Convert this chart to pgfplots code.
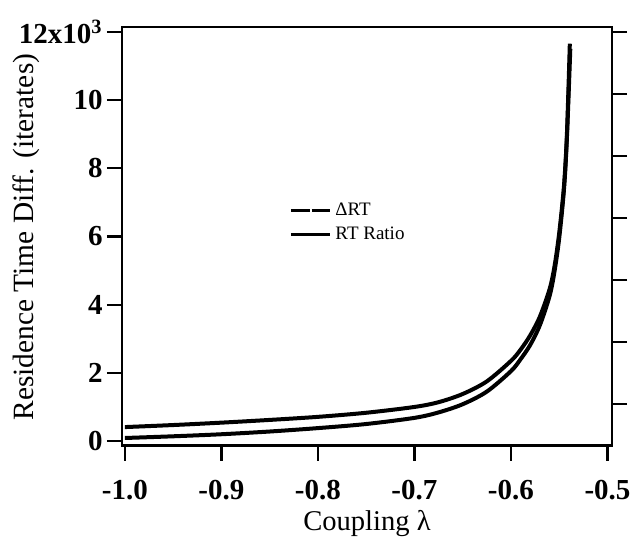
\documentclass[border=0pt]{standalone}
\usepackage{fontspec}
\setmainfont{Liberation Serif}
\usepackage{pgfplots}
\pgfplotsset{compat=1.18}
\begin{document}
\begin{tikzpicture}
\begin{axis}[
  scale only axis, width=245bp, height=209.25bp,
  xmin=-1.003, xmax=-0.4953, ymin=-0.13, ymax=12.14,
  axis line style={line width=1.1bp},
  xtick={-1.0,-0.9,-0.8,-0.7,-0.6,-0.5},
  xticklabels={-1.0,-0.9,-0.8,-0.7,-0.6,-0.5},
  ytick={0,2,4,6,8,10,12},
  yticklabels={0,2,4,6,8,10,12x10\textsuperscript{3}},
  xtick pos=bottom, ytick pos=left,
  tick align=outside,
  major tick length=7.5bp,
  tick style={line width=1.1bp, black},
  tick label style={font=\bfseries\fontsize{14.5bp}{15bp}\selectfont},
  xticklabel style={yshift=-6.5bp},
  yticklabel style={inner sep=1bp, xshift=-1bp},
  xlabel={Coupling λ}, ylabel={Residence Time Diff. (iterates)},
  xlabel style={font=\fontsize{14.3bp}{15bp}\selectfont, at={(axis description cs:0.5,0)}, anchor=base, yshift=-42.25bp},
  ylabel style={font=\fontsize{14.7bp}{16bp}\selectfont, at={(axis description cs:-0.1959,0.498)}, anchor=center, rotate=0},
  legend style={draw=none, fill=none, at={(axis description cs:0.341,0.59)}, anchor=north west,
    font=\fontsize{9.5bp}{11bp}\selectfont, row sep=0bp, inner sep=0pt},
  legend cell align=left,
  legend image code/.code={\draw[#1] (0bp,0bp) -- (19.5bp,0bp);},
]
\coordinate (BL) at (rel axis cs:0,0);
\coordinate (TR) at (rel axis cs:1,1);
\addlegendimage{black, line width=1.5bp, dash pattern=on 9.5bp off 0.8bp}
\addlegendentry{ΔRT}
\addlegendimage{black, line width=1.5bp}
\addlegendentry{RT Ratio}
\addplot[black, line width=2bp, smooth, tension=0.5, forget plot] coordinates {
(-1.0,0.41) (-0.95,0.47) (-0.9,0.54) (-0.85,0.62) (-0.8,0.71) (-0.75,0.83) (-0.7,1.0) (-0.675,1.14) (-0.65,1.38) (-0.625,1.75) (-0.6,2.35) (-0.59,2.68) (-0.58,3.1) (-0.57,3.65) (-0.56,4.45) (-0.555,5.1) (-0.55,6.1) (-0.545,7.5) (-0.542,9.0) (-0.539,11.65)
};
\addplot[black, line width=2bp, smooth, tension=0.5, forget plot] coordinates {
(-1.0,0.09) (-0.95,0.14) (-0.9,0.2) (-0.85,0.28) (-0.8,0.38) (-0.75,0.5) (-0.7,0.68) (-0.675,0.84) (-0.65,1.08) (-0.625,1.45) (-0.6,2.05) (-0.59,2.4) (-0.58,2.82) (-0.57,3.4) (-0.56,4.25) (-0.555,4.95) (-0.55,5.95) (-0.545,7.4) (-0.542,8.9) (-0.5385,11.5)
};
\end{axis}
\begin{axis}[
  scale only axis, width=245bp, height=209.25bp,
  xmin=0, xmax=1, ymin=0, ymax=418.5,
  axis x line=none, axis y line*=right,
  axis line style={line width=1.1bp},
  ytick={41.5,103.5,165.5,227.5,289.5,351.5,413.5}, yticklabels={},
  tick align=outside, major tick length=7.5bp,
  tick style={line width=1.1bp, black},
]
\end{axis}
\pgfresetboundingbox
\path[use as bounding box] ([shift={(-61bp,-47.75bp)}]BL) rectangle ([shift={(11bp,13.5bp)}]TR);
\end{tikzpicture}
\end{document}
